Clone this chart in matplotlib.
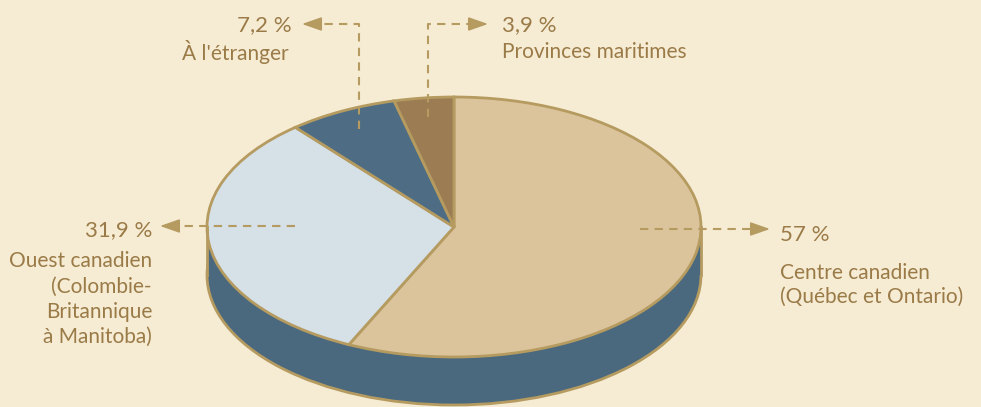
import numpy as np
import matplotlib.pyplot as plt
from matplotlib.patches import Ellipse, Rectangle

# parts du total, dans le sens horaire depuis midi
regions = ['Centre canadien\n(Québec et Ontario)',
           'Ouest canadien\n(Colombie-\nBritannique\nà Manitoba)',
           "À l'étranger",
           'Provinces maritimes']
parts = [57, 31.9, 7.2, 3.9]
etiquettes = ['57 %', '31,9 %', '7,2 %', '3,9 %']
couleurs = ['#dbc49b', '#d5e0e7', '#4e6d84', '#9b7c53']

fond = '#f6ebd3'
bord = '#b59b60'
flanc = '#4b697e'
texte = '#9a7b48'

plt.rcParams['font.family'] = ['Lato', 'DejaVu Sans']

W, H = 981, 407
cx, cy, rx, ry = 454, 227, 247, 130   # centre et demi-axes du disque (pixels)
epaisseur = 48 / ry


def pt(x, y):
    # pixels (origine en haut a gauche) -> coordonnees du disque
    return (x - cx) / rx, (cy - y) / ry


fig = plt.figure(figsize=(W / 100, H / 100), dpi=100, facecolor=fond)
ax = fig.add_axes([0, 0, 1, 1])
ax.set_facecolor(fond)

# flanc du cylindre
ax.add_patch(Ellipse((0, -epaisseur), 2, 2, facecolor=flanc, edgecolor=bord, lw=2))
ax.add_patch(Rectangle((-1, -epaisseur), 2, epaisseur, facecolor=flanc, edgecolor='none'))
ax.plot([-1, -1], [0, -epaisseur], color=bord, lw=2)
ax.plot([1, 1], [0, -epaisseur], color=bord, lw=2)

# dessus
wedges, _ = ax.pie(parts, colors=couleurs, startangle=90, counterclock=False,
                   wedgeprops=dict(edgecolor=bord, linewidth=2))

ax.set_aspect('auto')
ax.set_xlim(pt(0, 0)[0], pt(W, 0)[0])
ax.set_ylim(pt(0, H)[1], pt(0, 0)[1])
ax.axis('off')

fs, fp = 15, 16
tete = dict(arrowstyle='-|>,head_length=1.2,head_width=0.42', color=bord, lw=1.2,
            shrinkA=0, shrinkB=0)


def fleche(chemin, pointe):
    xs, ys = zip(*chemin)
    ax.plot(xs, ys, color=bord, lw=1.5, ls=(0, (4, 3)), zorder=4)
    ax.annotate('', xy=pointe, xytext=chemin[-1], arrowprops=tete, zorder=5)


def milieu(w):
    a = np.deg2rad((w.theta1 + w.theta2) / 2)
    return 0.85 * np.cos(a), 0.85 * np.sin(a)

# 57 % - Centre canadien
fleche([pt(640, 229), pt(752, 229)], pt(770, 229))
ax.text(*pt(780, 235), etiquettes[0], fontsize=fp, color=texte, ha='left', va='center')
ax.text(*pt(780, 285), regions[0], fontsize=fs, color=texte, ha='left', va='center',
        linespacing=1.25)

# 31,9 % - Ouest canadien
fleche([pt(295, 226), pt(178, 226)], pt(160, 226))
ax.text(*pt(152, 230), etiquettes[1], fontsize=fp, color=texte, ha='right', va='center')
ax.text(*pt(152, 299), regions[1], fontsize=fs, color=texte, ha='right', va='center',
        linespacing=1.33, multialignment='right')

# 7,2 % - A l'etranger
x0, y0 = milieu(wedges[2])
yh = pt(0, 24)[1]
fleche([(x0, y0), (x0, yh), pt(320, 24)], pt(302, 24))
ax.text(*pt(292, 25), etiquettes[2], fontsize=fp, color=texte, ha='right', va='center')
ax.text(*pt(289, 52), regions[2], fontsize=fs, color=texte, ha='right', va='center')

# 3,9 % - Provinces maritimes
x0, y0 = milieu(wedges[3])
fleche([(x0, y0), (x0, yh), pt(470, 24)], pt(488, 24))
ax.text(*pt(502, 25), etiquettes[3], fontsize=fp, color=texte, ha='left', va='center')
ax.text(*pt(502, 52), regions[3], fontsize=fs, color=texte, ha='left', va='center')

fig.savefig('out.png', dpi=100, facecolor=fond)
